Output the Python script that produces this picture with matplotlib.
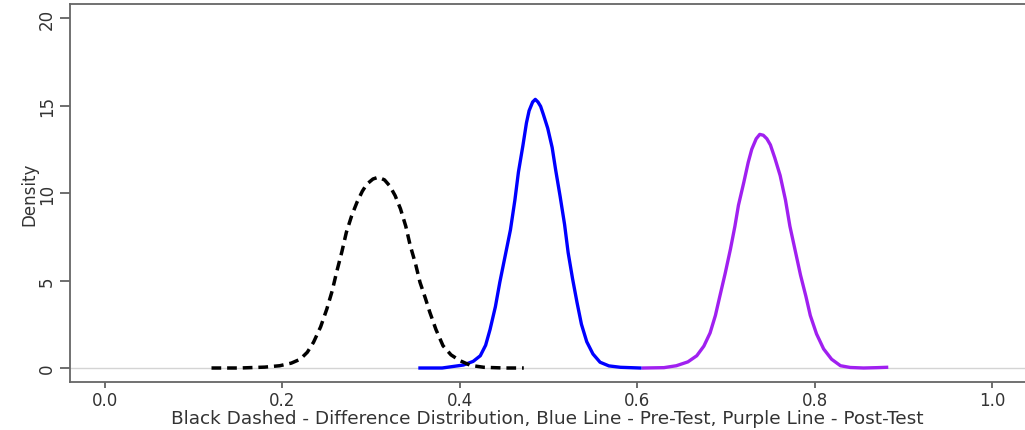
import matplotlib
matplotlib.use("Agg")
import matplotlib.pyplot as plt

# Difference distribution (black dashed)
diff_x = [0.120, 0.152, 0.180, 0.197, 0.210, 0.220, 0.228, 0.235, 0.243, 0.250, 0.256, 0.261, 0.267,
          0.272, 0.278, 0.284, 0.290, 0.295, 0.302, 0.308, 0.315, 0.321, 0.327, 0.333, 0.339,
          0.344, 0.350, 0.355, 0.361, 0.366, 0.373, 0.381, 0.390, 0.400, 0.412, 0.427, 0.450, 0.472]
diff_y = [0.0, 0.0, 0.05, 0.13, 0.28, 0.5, 0.9, 1.47, 2.35, 3.37, 4.4, 5.47, 6.65,
          7.75, 8.7, 9.47, 10.1, 10.5, 10.8, 10.9, 10.75, 10.4, 9.85, 9.1, 8.1,
          7.0, 5.95, 4.9, 4.0, 3.2, 2.2, 1.27, 0.75, 0.42, 0.15, 0.04, 0.0, 0.0]

# Pre-test (blue)
pre_x = [0.355, 0.380, 0.404, 0.415, 0.423, 0.429, 0.434, 0.440, 0.445, 0.451, 0.457, 0.462, 0.466,
         0.471, 0.475, 0.478, 0.482, 0.485, 0.488, 0.491, 0.494, 0.499, 0.504, 0.508, 0.513, 0.518, 0.522,
         0.527, 0.532, 0.537, 0.543, 0.550, 0.558, 0.568, 0.581, 0.603]
pre_y = [0.0, 0.0, 0.17, 0.38, 0.7, 1.3, 2.2, 3.5, 4.9, 6.4, 7.9, 9.6, 11.2,
         12.7, 14.0, 14.7, 15.2, 15.35, 15.2, 14.95, 14.5, 13.7, 12.6, 11.3, 9.8, 8.2, 6.6,
         5.1, 3.75, 2.5, 1.5, 0.8, 0.33, 0.12, 0.04, 0.0]

# Post-test (purple)
post_x = [0.607, 0.630, 0.644, 0.657, 0.667, 0.675, 0.682, 0.688, 0.693, 0.699, 0.705, 0.710, 0.714,
          0.720, 0.725, 0.729, 0.734, 0.738, 0.742, 0.746, 0.750, 0.755, 0.761, 0.767, 0.772, 0.778, 0.784,
          0.790, 0.795, 0.802, 0.810, 0.819, 0.829, 0.840, 0.855, 0.870, 0.881]
post_y = [0.0, 0.02, 0.13, 0.35, 0.7, 1.25, 2.0, 3.0, 4.1, 5.4, 6.8, 8.1, 9.3,
          10.6, 11.75, 12.5, 13.1, 13.35, 13.3, 13.1, 12.75, 12.0, 11.0, 9.6, 8.1, 6.7, 5.3,
          4.1, 3.0, 1.95, 1.09, 0.5, 0.13, 0.03, 0.0, 0.02, 0.04]

x_ticks = [0.0, 0.2, 0.4, 0.6, 0.8, 1.0]
x_tick_labels = ["0.0", "0.2", "0.4", "0.6", "0.8", "1.0"]
y_ticks = [0, 5, 10, 15, 20]
y_tick_labels = ["0", "5", "10", "15", "20"]

plt.rcParams['font.family'] = ['DejaVu Sans']

fig = plt.figure(figsize=(10.25, 4.31), dpi=100)
ax = fig.add_axes([70/1025, 1 - 383/431, 1 - 70/1025, (383 - 5)/431])

ax.axhline(0, color='#d4d4d4', lw=1.0, zorder=1)
ax.plot(diff_x, diff_y, color='black', lw=2.5, linestyle=(0, (2.8, 1.7)), zorder=3)
ax.plot(pre_x, pre_y, color='#0000ff', lw=2.4, zorder=2)
ax.plot(post_x, post_y, color='#a020f0', lw=2.4, zorder=2)

ax.set_xlim(-0.0395, 1.037)
ax.set_ylim(-0.8, 20.8)
ax.set_xticks(x_ticks)
ax.set_xticklabels(x_tick_labels)
ax.set_yticks(y_ticks)
ax.set_yticklabels(y_tick_labels, rotation=90, va='center')

text_color = '#333333'
ax.tick_params(axis='x', length=4.5, width=1.2, color='#555555', labelcolor=text_color,
               labelsize=12, pad=2)
ax.tick_params(axis='y', length=7, width=1.2, color='#555555', labelcolor=text_color,
               labelsize=12, pad=3)

ax.set_xlabel("Black Dashed - Difference Distribution, Blue Line - Pre-Test, Purple Line - Post-Test",
              fontsize=13.3, color=text_color, labelpad=0)
ax.set_ylabel("Density", fontsize=12, color=text_color, labelpad=0)

for s in ['left', 'bottom', 'top']:
    ax.spines[s].set_color('#666666')
    ax.spines[s].set_linewidth(1.3)
ax.spines['right'].set_visible(False)

fig.savefig("out.png", dpi=100)
